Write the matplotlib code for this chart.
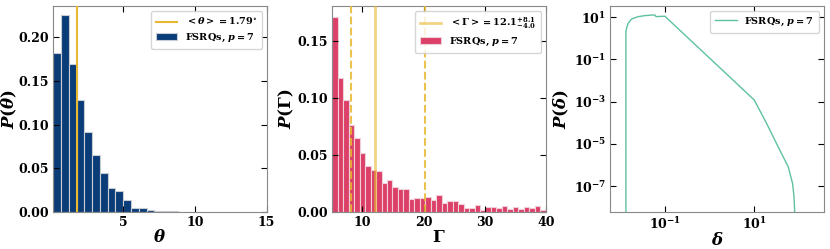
import numpy as np
import matplotlib
matplotlib.use("Agg")
import matplotlib.pyplot as plt
from matplotlib.ticker import FixedLocator, NullLocator

plt.rcParams['font.family'] = ['DejaVu Serif']
plt.rcParams['font.weight'] = 'bold'
plt.rcParams['mathtext.fontset'] = 'custom'
plt.rcParams['mathtext.rm'] = 'DejaVu Serif:bold'
plt.rcParams['mathtext.bf'] = 'DejaVu Serif:bold'
plt.rcParams['mathtext.it'] = 'DejaVu Serif:italic:bold'

# theta histogram (fraction per bin)
theta_start = 0.12
theta_width = 0.542
theta_frac = [0.1817, 0.2256, 0.169, 0.128, 0.092, 0.0649, 0.045, 0.0278,
              0.0237, 0.0134, 0.0046, 0.0046, 0.0023, 0.0011, 0.0011, 0.0011,
              0.0004, 0.0002, 0.0001]
theta_mean = 1.79

# Gamma histogram
gamma_start = 5.08
gamma_width = 0.895
gamma_frac = [0.171, 0.118, 0.098, 0.0768, 0.0647, 0.052, 0.0404, 0.0366,
              0.0357, 0.0258, 0.0278, 0.022, 0.0205, 0.0205, 0.0111, 0.0123,
              0.0123, 0.0129, 0.0103, 0.0146, 0.0079, 0.010, 0.0094, 0.0067,
              0.0038, 0.0038, 0.0059, 0.002, 0.0044, 0.0044, 0.0032, 0.005,
              0.0026, 0.0041, 0.0026, 0.0047, 0.0038, 0.005, 0.002]
gamma_mean = 12.1
gamma_lo = 8.1
gamma_hi = 20.2

# delta distribution curve
delta = [0.0134, 0.0134, 0.0141, 0.0151, 0.0180, 0.0251, 0.0355, 0.0550,
         0.0603, 0.0631, 0.0794, 0.1, 10.0, 18.8, 37.2, 57.5, 71.9, 77.6,
         80.4, 81.3]
p_delta = [1e-10, 2.09, 3.55, 5.25, 8.32, 10.7, 12.0, 12.9, 12.6, 10.7,
           11.0, 11.2, 1.2e-3, 9.5e-5, 5.1e-6, 8.3e-7, 1.35e-7, 3.2e-8,
           5.5e-9, 1e-10]

blue = '#0a3c78'
pink = '#dc4068'
gold = '#e8b830'
green = '#5ec29e'

fig = plt.figure(figsize=(8.3, 2.49), dpi=100)
ax1 = fig.add_axes([0.0642, 0.1486, 0.2571, 0.8273])
ax2 = fig.add_axes([0.4004, 0.1486, 0.2571, 0.8273])
ax3 = fig.add_axes([0.7349, 0.1486, 0.2578, 0.8273])

edges1 = theta_start + theta_width * np.arange(len(theta_frac) + 1)
ax1.axvline(theta_mean, color=gold, lw=1.5, label=r'$<\theta>= 1.79^{\circ}$', zorder=3)
ax1.bar(edges1[:-1], theta_frac, width=theta_width, align='edge', color=blue,
        edgecolor='#c8ccd4', linewidth=0.8, label=r'FSRQs, $p=7$')
ax1.set_xlim(theta_start, 15)
ax1.set_ylim(0, 0.236)
ax1.set_xticks([5, 10, 15])
ax1.set_yticks([0, 0.05, 0.10, 0.15, 0.20])
ax1.set_xlabel(r'$\theta$', fontsize=12, labelpad=0)
ax1.set_ylabel(r'$P(\theta)$', fontsize=12)
ax1.yaxis.set_label_coords(-0.205, 0.5)

edges2 = gamma_start + gamma_width * np.arange(len(gamma_frac) + 1)
ax2.axvline(gamma_mean, color=gold, lw=2, alpha=0.6,
            label=r'$<\Gamma>= 12.1^{+8.1}_{-4.0}$', zorder=3)
ax2.axvline(gamma_lo, color=gold, lw=1.5, ls='--', alpha=0.85, zorder=3)
ax2.axvline(gamma_hi, color=gold, lw=1.5, ls='--', alpha=0.85, zorder=3)
ax2.bar(edges2[:-1], gamma_frac, width=gamma_width, align='edge', color=pink,
        edgecolor='#f0d0d8', linewidth=0.8, label=r'FSRQs, $p=7$')
ax2.set_xlim(gamma_start, 40)
ax2.set_ylim(0, 0.181)
ax2.set_xticks([10, 20, 30, 40])
ax2.set_yticks([0, 0.05, 0.10, 0.15])
ax2.set_xlabel(r'$\Gamma$', fontsize=12, labelpad=0)
ax2.set_ylabel(r'$P(\Gamma)$', fontsize=12)
ax2.yaxis.set_label_coords(-0.215, 0.5)

ax3.loglog(delta, p_delta, color=green, lw=1, label=r'FSRQs, $p=7$')
ax3.set_xlim(10 ** -2.23, 10 ** 2.56)
ax3.set_ylim(10 ** -8.23, 10 ** 1.535)
ax3.xaxis.set_major_locator(FixedLocator([1e-1, 1e1]))
ax3.yaxis.set_major_locator(FixedLocator([1e1, 1e-1, 1e-3, 1e-5, 1e-7]))
ax3.xaxis.set_minor_locator(NullLocator())
ax3.yaxis.set_minor_locator(NullLocator())
ax3.set_xlabel(r'$\delta$', fontsize=12, labelpad=0)
ax3.set_ylabel(r'$P(\delta)$', fontsize=12)
ax3.yaxis.set_label_coords(-0.225, 0.5)

for ax in (ax1, ax2, ax3):
    ax.tick_params(direction='in', top=True, right=True, labelsize=9,
                   length=4, width=0.8, pad=3)
    ax.yaxis.label.set_va('center')
    for s in ax.spines.values():
        s.set_edgecolor('#888888')
    leg = ax.legend(loc='upper right', fontsize=7, fancybox=True,
                    edgecolor='#cccccc', handlelength=2.2, borderpad=0.5)

fig.savefig('out.png', dpi=100)
